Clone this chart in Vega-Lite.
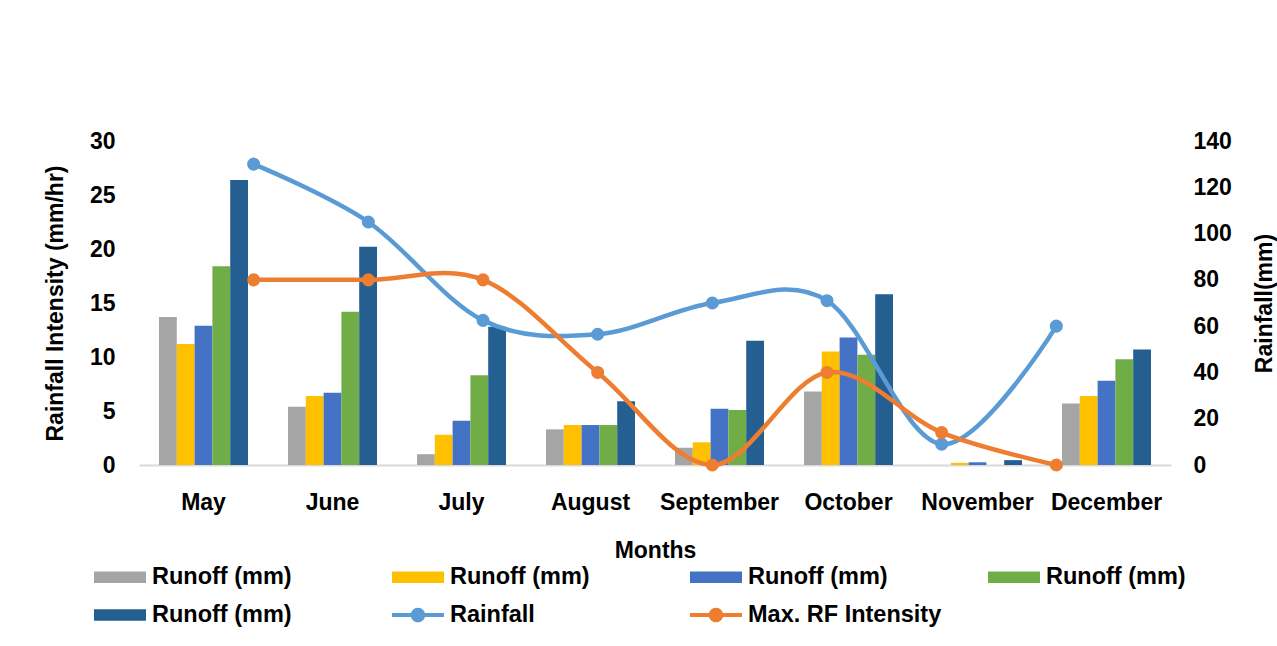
{
  "$schema": "https://vega.github.io/schema/vega-lite/v6.json",
  "width": 1032,
  "height": 324,
  "autosize": {"type": "none"},
  "padding": {"left": 139, "top": 141, "right": 106, "bottom": 181},
  "background": "white",
  "config": {
    "view": {"stroke": null},
    "font": "Liberation Sans",
    "axis": {
      "labelFont": "Liberation Sans",
      "labelFontSize": 23,
      "labelFontWeight": "bold",
      "labelColor": "black",
      "titleFont": "Liberation Sans",
      "titleFontSize": 23,
      "titleFontWeight": "bold",
      "titleColor": "black",
      "grid": false,
      "ticks": false,
      "domain": false
    }
  },
  "datasets": {
    "bars": [
      {"month": "May", "series": "Runoff (mm) 1", "value": 13.7},
      {"month": "May", "series": "Runoff (mm) 2", "value": 11.2},
      {"month": "May", "series": "Runoff (mm) 3", "value": 12.9},
      {"month": "May", "series": "Runoff (mm) 4", "value": 18.4},
      {"month": "May", "series": "Runoff (mm) 5", "value": 26.4},
      {"month": "June", "series": "Runoff (mm) 1", "value": 5.4},
      {"month": "June", "series": "Runoff (mm) 2", "value": 6.4},
      {"month": "June", "series": "Runoff (mm) 3", "value": 6.7},
      {"month": "June", "series": "Runoff (mm) 4", "value": 14.2},
      {"month": "June", "series": "Runoff (mm) 5", "value": 20.2},
      {"month": "July", "series": "Runoff (mm) 1", "value": 1.0},
      {"month": "July", "series": "Runoff (mm) 2", "value": 2.8},
      {"month": "July", "series": "Runoff (mm) 3", "value": 4.1},
      {"month": "July", "series": "Runoff (mm) 4", "value": 8.3},
      {"month": "July", "series": "Runoff (mm) 5", "value": 12.8},
      {"month": "August", "series": "Runoff (mm) 1", "value": 3.3},
      {"month": "August", "series": "Runoff (mm) 2", "value": 3.7},
      {"month": "August", "series": "Runoff (mm) 3", "value": 3.7},
      {"month": "August", "series": "Runoff (mm) 4", "value": 3.7},
      {"month": "August", "series": "Runoff (mm) 5", "value": 5.9},
      {"month": "September", "series": "Runoff (mm) 1", "value": 1.6},
      {"month": "September", "series": "Runoff (mm) 2", "value": 2.1},
      {"month": "September", "series": "Runoff (mm) 3", "value": 5.2},
      {"month": "September", "series": "Runoff (mm) 4", "value": 5.1},
      {"month": "September", "series": "Runoff (mm) 5", "value": 11.5},
      {"month": "October", "series": "Runoff (mm) 1", "value": 6.8},
      {"month": "October", "series": "Runoff (mm) 2", "value": 10.5},
      {"month": "October", "series": "Runoff (mm) 3", "value": 11.8},
      {"month": "October", "series": "Runoff (mm) 4", "value": 10.2},
      {"month": "October", "series": "Runoff (mm) 5", "value": 15.8},
      {"month": "November", "series": "Runoff (mm) 1", "value": 0},
      {"month": "November", "series": "Runoff (mm) 2", "value": 0.2},
      {"month": "November", "series": "Runoff (mm) 3", "value": 0.25},
      {"month": "November", "series": "Runoff (mm) 4", "value": 0},
      {"month": "November", "series": "Runoff (mm) 5", "value": 0.45},
      {"month": "December", "series": "Runoff (mm) 1", "value": 5.7},
      {"month": "December", "series": "Runoff (mm) 2", "value": 6.4},
      {"month": "December", "series": "Runoff (mm) 3", "value": 7.8},
      {"month": "December", "series": "Runoff (mm) 4", "value": 9.8},
      {"month": "December", "series": "Runoff (mm) 5", "value": 10.7}
    ],
    "lines": [
      {"month": "May", "series": "Rainfall", "value": 130},
      {"month": "June", "series": "Rainfall", "value": 105},
      {"month": "July", "series": "Rainfall", "value": 62.5},
      {"month": "August", "series": "Rainfall", "value": 56.5},
      {"month": "September", "series": "Rainfall", "value": 70},
      {"month": "October", "series": "Rainfall", "value": 71},
      {"month": "November", "series": "Rainfall", "value": 9},
      {"month": "December", "series": "Rainfall", "value": 60},
      {"month": "May", "series": "Max. RF Intensity", "value": 80},
      {"month": "June", "series": "Max. RF Intensity", "value": 80},
      {"month": "July", "series": "Max. RF Intensity", "value": 80},
      {"month": "August", "series": "Max. RF Intensity", "value": 40},
      {"month": "September", "series": "Max. RF Intensity", "value": 0},
      {"month": "October", "series": "Max. RF Intensity", "value": 40},
      {"month": "November", "series": "Max. RF Intensity", "value": 14},
      {"month": "December", "series": "Max. RF Intensity", "value": 0}
    ]
  },
  "layer": [
    {
      "data": {"name": "bars"},
      "mark": {"type": "bar"},
      "encoding": {
        "x": {
          "field": "month",
          "type": "nominal",
          "sort": ["May", "June", "July", "August", "September", "October", "November", "December"],
          "scale": {"paddingInner": 0.31, "paddingOuter": 0.155},
          "axis": {
            "title": "Months",
            "labelAngle": 0,
            "labelPadding": 26,
            "domain": true,
            "domainColor": "#D9D9D9",
            "domainWidth": 2,
            "titleY": 85,
            "titleBaseline": "middle"
          }
        },
        "xOffset": {
          "field": "series",
          "type": "nominal",
          "sort": ["Runoff (mm) 1", "Runoff (mm) 2", "Runoff (mm) 3", "Runoff (mm) 4", "Runoff (mm) 5"],
          "scale": {"paddingInner": 0, "paddingOuter": 0}
        },
        "y": {
          "field": "value",
          "type": "quantitative",
          "scale": {"domain": [0, 30]},
          "axis": {
            "title": "Rainfall Intensity (mm/hr)",
            "values": [0, 5, 10, 15, 20, 25, 30],
            "labelPadding": 24,
            "titleAngle": 270,
            "titleX": -84,
            "titleY": 162,
            "titleAlign": "center",
            "titleBaseline": "middle"
          }
        },
        "color": {
          "field": "series",
          "type": "nominal",
          "scale": {
            "domain": ["Runoff (mm) 1", "Runoff (mm) 2", "Runoff (mm) 3", "Runoff (mm) 4", "Runoff (mm) 5", "Rainfall", "Max. RF Intensity"],
            "range": ["#A5A5A5", "#FFC000", "#4472C4", "#70AD47", "#255E91", "#5B9BD5", "#ED7D31"]
          },
          "legend": {
            "orient": "none",
            "legendX": -45,
            "legendY": 410,
            "title": null,
            "columns": 4,
            "direction": "horizontal",
            "gridAlign": "all",
            "columnPadding": 46,
            "rowPadding": -15,
            "padding": 0,
            "symbolSize": 2704,
            "labelFont": "Liberation Sans",
            "labelFontSize": 23.5,
            "labelFontWeight": "bold",
            "labelColor": "black",
            "labelOffset": 6,
            "labelLimit": 400,
            "labelExpr": "indexof(datum.label, 'Runoff') == 0 ? 'Runoff (mm)' : datum.label",
            "encode": {
              "symbols": {
                "update": {
                  "shape": {"signal": "indexof(datum.value, 'Runoff') == 0 ? 'M-1,-0.225L1,-0.225L1,0.225L-1,0.225Z' : 'M-1,-0.08L1,-0.08L1,0.08L-1,0.08ZM-0.28,0A0.28,0.28,0,1,1,0.28,0A0.28,0.28,0,1,1,-0.28,0Z'"},
                  "fill": {"signal": "scale('color', datum.value)"},
                  "stroke": {"value": "transparent"},
                  "strokeWidth": {"value": 0},
                  "opacity": {"value": 1}
                }
              }
            }
          }
        }
      }
    },
    {
      "data": {"name": "lines"},
      "encoding": {
        "x": {
          "field": "month",
          "type": "nominal",
          "scale": {
            "type": "point",
            "domain": ["_start", "May", "June", "July", "August", "September", "October", "November", "December", "_end"],
            "padding": 0
          },
          "axis": null
        },
        "y": {
          "field": "value",
          "type": "quantitative",
          "scale": {"domain": [0, 140]},
          "axis": {
            "orient": "right",
            "title": "Rainfall(mm)",
            "values": [0, 20, 40, 60, 80, 100, 120, 140],
            "labelPadding": 22,
            "titleAngle": 270,
            "titleX": 93,
            "titleY": 162,
            "titleAlign": "center",
            "titleBaseline": "middle"
          }
        },
        "color": {"field": "series", "type": "nominal", "legend": null}
      },
      "layer": [
        {"mark": {"type": "line", "interpolate": "cardinal", "strokeWidth": 4.5}},
        {"mark": {"type": "point", "filled": true, "size": 170, "opacity": 1}}
      ]
    }
  ],
  "resolve": {"scale": {"x": "independent", "y": "independent"}}
}
